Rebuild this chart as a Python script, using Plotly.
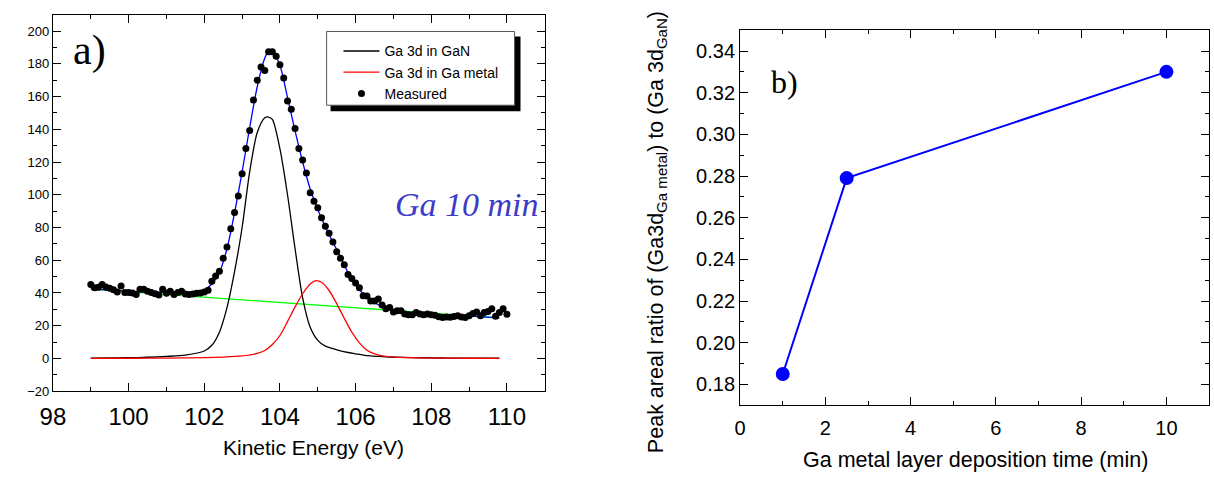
import plotly.graph_objects as go

W, H = 1214, 484

# ---------------- panel a) data ----------------
meas_energy = [99.0, 99.1, 99.2, 99.3, 99.4, 99.5, 99.6, 99.7, 99.8, 99.9,
               100.0, 100.1, 100.2, 100.3, 100.4, 100.5, 100.6, 100.7, 100.8, 100.9,
               101.0, 101.1, 101.2, 101.3, 101.4, 101.5, 101.6, 101.7, 101.8, 101.9,
               102.0, 102.1, 102.2, 102.3, 102.4, 102.5, 102.6, 102.7, 102.8, 102.9,
               103.0, 103.1, 103.2, 103.3, 103.4, 103.5, 103.6, 103.7, 103.8, 103.9,
               104.0, 104.1, 104.2, 104.3, 104.4, 104.5, 104.6, 104.7, 104.8, 104.9,
               105.0, 105.1, 105.2, 105.3, 105.4, 105.5, 105.6, 105.7, 105.8, 105.9,
               106.0, 106.1, 106.2, 106.3, 106.4, 106.5, 106.6, 106.7, 106.8, 106.9,
               107.0, 107.1, 107.2, 107.3, 107.4, 107.5, 107.6, 107.7, 107.8, 107.9,
               108.0, 108.1, 108.2, 108.3, 108.4, 108.5, 108.6, 108.7, 108.8, 108.9,
               109.0, 109.1, 109.2, 109.3, 109.4, 109.5, 109.6, 109.7, 109.8, 109.9,
               110.0]
meas_counts = [45.2, 43.1, 43.5, 45.2, 43.7, 42.9, 41.9, 40.5, 44.3, 40.3,
               40.3, 40.0, 39.1, 42.3, 42.3, 41.1, 40.3, 39.5, 38.7, 42.2,
               39.8, 41.0, 39.0, 40.2, 41.1, 39.4, 39.0, 39.3, 39.8, 40.0,
               40.6, 41.7, 47.1, 50.3, 53.2, 61.2, 68.0, 79.2, 89.2, 99.3,
               112.9, 128.3, 139.3, 157.9, 170.0, 178.0, 176.0, 187.4, 187.4, 184.6,
               179.4, 171.4, 157.3, 152.3, 140.5, 128.3, 121.3, 113.3, 101.3, 96.0,
               92.0, 86.0, 80.8, 76.4, 71.2, 65.2, 61.2, 57.2, 51.2, 48.8,
               46.1, 43.1, 38.3, 38.1, 35.1, 35.1, 36.3, 32.7, 30.3, 31.1,
               28.3, 29.1, 29.1, 27.1, 26.7, 26.7, 28.1, 27.1, 26.7, 27.1,
               26.7, 26.3, 25.5, 25.0, 25.3, 25.1, 25.6, 26.0, 25.3, 25.0,
               26.0, 27.5, 28.3, 26.0, 28.1, 28.7, 30.3, 25.7, 28.0, 30.3,
               27.0]

fit_energy = [99.0, 99.5, 100.0, 100.5, 101.0, 101.5, 102.0, 102.2, 102.4, 102.6,
              102.8, 103.0, 103.2, 103.4, 103.6, 103.7, 103.8, 104.0, 104.2, 104.4,
              104.6, 104.8, 105.0, 105.2, 105.4, 105.6, 105.8, 106.0, 106.2, 106.4,
              106.6, 106.8, 107.0, 107.5, 108.0, 108.5, 109.0, 109.5, 109.8]
gan_counts = [0.2, 0.3, 0.4, 0.7, 1.2, 2.0, 4.5, 8.0, 16.0, 31.0,
              53.0, 80.0, 114.0, 138.0, 147.0, 147.5, 146.0, 128.0, 100.0, 67.0,
              37.0, 19.0, 11.0, 7.5, 6.0, 4.6, 3.6, 2.8, 2.0, 1.5,
              1.2, 0.9, 0.7, 0.5, 0.3, 0.2, 0.1, 0.1, 0.1]
envelope_counts = [42.5, 41.8, 41.1, 40.6, 40.3, 40.2, 41.8, 45.5, 52.5, 67.0,
                   89.0, 114.0, 141.0, 166.0, 183.5, 187.8, 187.5, 179.0, 159.5, 139.0,
                   120.0, 103.5, 91.0, 80.5, 71.0, 62.0, 52.5, 45.0, 39.5, 35.5,
                   32.8, 30.8, 29.5, 27.8, 27.0, 26.3, 25.8, 25.2, 24.8]

metal_energy = [99.0, 100.0, 101.0, 102.0, 102.5, 103.0, 103.4, 103.6, 103.8, 104.0,
                104.2, 104.4, 104.6, 104.8, 104.95, 105.1, 105.3, 105.5, 105.7, 105.9,
                106.1, 106.3, 106.5, 106.8, 107.2, 108.0, 109.0, 109.8]
metal_counts = [0.0, 0.1, 0.2, 0.5, 0.8, 1.5, 3.0, 4.8, 8.5, 14.0,
                22.5, 31.5, 39.5, 45.5, 47.5, 46.5, 41.5, 33.5, 24.5, 16.0,
                9.5, 5.0, 2.8, 1.2, 0.6, 0.2, 0.1, 0.0]

bg_energy = [99.0, 101.0, 103.0, 105.0, 107.0, 109.8]
bg_counts = [42.3, 39.0, 35.8, 32.5, 29.3, 24.7]

# ---------------- panel b) data ----------------
dep_time = [1.0, 2.5, 10.0]
area_ratio = [0.185, 0.279, 0.330]

SANS = "Liberation Sans, Arial, sans-serif"
SERIF = "Liberation Serif, Times New Roman, serif"


def px(x):
    return x / W


def py(y):
    return 1 - y / H


fig = go.Figure()

fig.add_trace(go.Scatter(x=bg_energy, y=bg_counts, mode="lines",
                         line=dict(color="#00ff00", width=1.3),
                         showlegend=False, xaxis="x", yaxis="y", hoverinfo="skip"))
fig.add_trace(go.Scatter(x=fit_energy, y=gan_counts, mode="lines", name="Ga 3d in GaN",
                         line=dict(color="black", width=1.3, shape="spline", smoothing=0.8),
                         xaxis="x", yaxis="y"))
fig.add_trace(go.Scatter(x=metal_energy, y=metal_counts, mode="lines", name="Ga 3d in Ga metal",
                         line=dict(color="#ff0000", width=1.3, shape="spline", smoothing=0.8),
                         xaxis="x", yaxis="y"))
fig.add_trace(go.Scatter(x=fit_energy, y=envelope_counts, mode="lines",
                         line=dict(color="#0000ff", width=1.3, shape="spline", smoothing=0.8),
                         showlegend=False, xaxis="x", yaxis="y"))
fig.add_trace(go.Scatter(x=meas_energy, y=meas_counts, mode="markers", name="Measured",
                         marker=dict(color="black", size=7),
                         xaxis="x", yaxis="y"))

fig.add_trace(go.Scatter(x=dep_time, y=area_ratio, mode="lines+markers",
                         line=dict(color="#0000ff", width=2),
                         marker=dict(color="#0000ff", size=14),
                         showlegend=False, xaxis="x2", yaxis="y2"))

axis_common = dict(showline=True, linecolor="black", linewidth=1.2, mirror="ticks",
                   ticks="inside", ticklen=8, tickwidth=1, tickcolor="black",
                   showgrid=False, zeroline=False)

fig.update_layout(
    width=W, height=H,
    margin=dict(l=0, r=0, t=0, b=0),
    paper_bgcolor="white", plot_bgcolor="white",
    font=dict(family=SANS, color="black"),
    xaxis=dict(domain=[px(40.4), px(537.5)], range=[98, 111], anchor="y",
               tick0=98, dtick=2, tickfont=dict(size=24, family=SANS), ticklabelstandoff=4,
               minor=dict(ticks="inside", ticklen=4, dtick=1, tickcolor="black", showgrid=False),
               **axis_common),
    yaxis=dict(domain=[py(397.7), py(15)], range=[-20, 210], anchor="x",
               tick0=0, dtick=20, tickfont=dict(size=13, family=SANS),
               minor=dict(ticks="inside", ticklen=4, dtick=10, tickcolor="black", showgrid=False),
               **axis_common),
    xaxis2=dict(domain=[px(735), px(1209)], range=[0, 11], anchor="y2",
                tick0=0, dtick=2, tickfont=dict(size=20, family=SANS), ticklabelstandoff=5,
                minor=dict(ticks="inside", ticklen=4, dtick=1, tickcolor="black", showgrid=False),
                **axis_common),
    yaxis2=dict(domain=[py(412), py(30.7)], range=[0.17, 0.35], anchor="x2",
                tick0=0.18, dtick=0.02, tickformat=".2f", tickfont=dict(size=20, family=SANS),
                minor=dict(ticks="inside", ticklen=4, dtick=0.01, tickcolor="black", showgrid=False),
                **axis_common),
    legend=dict(x=px(329), y=py(36), xanchor="left", yanchor="top",
                bgcolor="rgba(0,0,0,0)", borderwidth=0, itemwidth=36,
                font=dict(size=14, family=SANS, color="black"), tracegroupgap=0),
    shapes=[
        dict(type="rect", xref="paper", yref="paper", x0=px(321), x1=px(513), y0=py(113), y1=py(37),
             fillcolor="black", line=dict(width=0), layer="above"),
        dict(type="rect", xref="paper", yref="paper", x0=px(317), x1=px(507), y0=py(107), y1=py(32),
             fillcolor="white", line=dict(color="#555555", width=1), layer="above"),
    ],
    annotations=[
        dict(text="a)", x=px(77), y=py(51), xref="paper", yref="paper", showarrow=False,
             xanchor="center", yanchor="middle", font=dict(family=SERIF, size=42, color="black")),
        dict(text="b)", x=px(780), y=py(83), xref="paper", yref="paper", showarrow=False,
             xanchor="center", yanchor="middle", font=dict(family=SERIF, size=32, color="black")),
        dict(text="<i>Ga 10 min</i>", x=px(459), y=py(208), xref="paper", yref="paper", showarrow=False,
             xanchor="center", yanchor="middle", font=dict(family=SERIF, size=34, color="#3c3cc8")),
        dict(text="Kinetic Energy (eV)", x=px(304), y=py(455), xref="paper", yref="paper", showarrow=False,
             xanchor="center", yanchor="middle", font=dict(family=SANS, size=21, color="black")),
        dict(text="Ga metal layer deposition time (min)", x=px(973), y=py(468), xref="paper", yref="paper",
             showarrow=False, xanchor="center", yanchor="middle",
             font=dict(family=SANS, size=21.5, color="black")),
        dict(text="Peak areal ratio of (Ga3d<sub>Ga metal</sub>) to (Ga 3d<sub>GaN</sub>)",
             x=px(651), y=py(236), xref="paper", yref="paper", showarrow=False, textangle=-90,
             xanchor="center", yanchor="middle", font=dict(family=SANS, size=21.5, color="black")),
    ],
)

fig.write_html("out.html", config={"displayModeBar": False},
               post_script="document.body.style.margin='0';")
